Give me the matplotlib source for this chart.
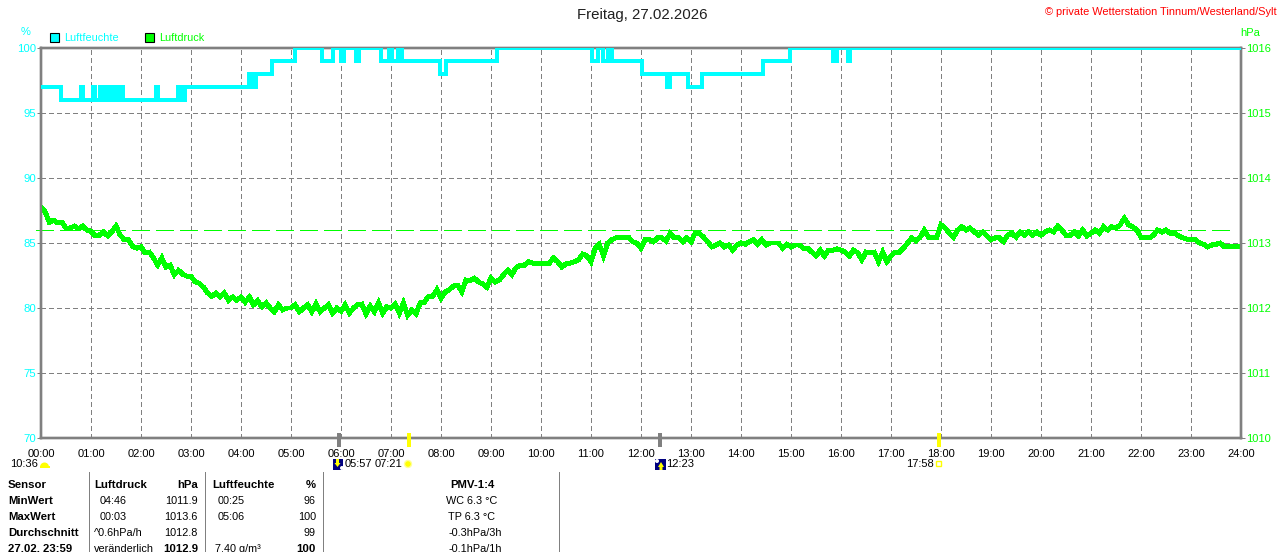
import matplotlib
matplotlib.use("Agg")
import matplotlib.pyplot as plt
import numpy as np
from matplotlib.patches import Rectangle, Wedge, Circle, Polygon

plt.rcParams['font.family'] = ['Liberation Sans', 'DejaVu Sans']

W, H = 1280, 552
CYAN = '#00ffff'
LIME = '#00ff00'
GRAY = '#808080'

hour_labels = [f'{h:02d}:00' for h in range(25)]
hum_ticks = [70, 75, 80, 85, 90, 95, 100]
hpa_ticks = [1010, 1011, 1012, 1013, 1014, 1015, 1016]

# Humidity: minute of change, new value
hum_minutes = [0, 24, 48, 50, 62, 65, 71, 72, 76, 78, 82, 84, 88, 90, 95, 98, 138, 140, 164, 166, 169, 171,
               173, 250, 252, 254, 256, 258, 277, 305, 337, 350, 360, 363, 378, 381, 408, 418, 421, 425,
               428, 433, 479, 486, 547, 661, 668, 674, 680, 685, 721, 751, 755, 776, 793, 866, 899,
               950, 955, 968, 971, 1440]
hum_values = [97, 96, 97, 96, 97, 96, 97, 96, 97, 96, 97, 96, 97, 96, 97, 96, 97, 96, 97, 96, 97, 96,
              97, 98, 97, 98, 97, 98, 99, 100, 99, 100, 99, 100, 99, 100, 99, 100, 99, 99,
              100, 99, 98, 99, 100, 99, 100, 99, 100, 99, 98, 97, 98, 97, 98, 99, 100,
              99, 100, 99, 100, 100]

# Pressure every 5 minutes (hPa), one row per hour
press_hours = [
    1013.55, 1013.48, 1013.32, 1013.35, 1013.31, 1013.32, 1013.23, 1013.23, 1013.26, 1013.22, 1013.26, 1013.20,
    1013.18, 1013.11, 1013.12, 1013.17, 1013.11, 1013.17, 1013.26, 1013.12, 1013.05, 1013.05, 1012.95, 1012.92,
    1012.94, 1012.85, 1012.86, 1012.77, 1012.66, 1012.77, 1012.63, 1012.66, 1012.51, 1012.58, 1012.52, 1012.49,
    1012.49, 1012.40, 1012.38, 1012.32, 1012.23, 1012.18, 1012.23, 1012.17, 1012.23, 1012.12, 1012.17, 1012.12,
    1012.17, 1012.09, 1012.17, 1012.05, 1012.11, 1012.02, 1012.08, 1012.00, 1011.94, 1012.05, 1011.97, 1012.00,
    1012.00, 1012.05, 1011.94, 1012.00, 1012.05, 1011.94, 1012.06, 1011.94, 1012.00, 1012.05, 1011.92, 1012.00,
    1011.95, 1012.05, 1011.92, 1012.00, 1012.05, 1012.06, 1011.91, 1012.03, 1011.94, 1012.08, 1011.92, 1012.02,
    1012.00, 1012.06, 1011.92, 1012.08, 1011.89, 1011.97, 1011.91, 1012.08, 1012.09, 1012.18, 1012.18, 1012.28,
    1012.15, 1012.25, 1012.28, 1012.34, 1012.35, 1012.25, 1012.43, 1012.42, 1012.46, 1012.40, 1012.37, 1012.32,
    1012.46, 1012.40, 1012.43, 1012.51, 1012.58, 1012.51, 1012.62, 1012.66, 1012.66, 1012.71, 1012.69, 1012.69,
    1012.68, 1012.69, 1012.69, 1012.77, 1012.71, 1012.63, 1012.68, 1012.69, 1012.71, 1012.74, 1012.83, 1012.80,
    1012.71, 1012.92, 1012.98, 1012.80, 1013.00, 1013.05, 1013.08, 1013.09, 1013.09, 1013.09, 1013.02, 1013.00,
    1012.92, 1013.05, 1013.05, 1013.02, 1013.08, 1013.08, 1013.03, 1013.15, 1013.08, 1013.08, 1013.02, 1013.08,
    1013.02, 1013.15, 1013.15, 1013.09, 1013.02, 1012.94, 1012.97, 1013.00, 1012.94, 1012.97, 1012.89, 1012.97,
    1013.00, 1012.98, 1013.02, 1013.05, 1012.98, 1013.05, 1012.97, 1013.00, 1013.00, 1013.00, 1012.92, 1012.98,
    1012.94, 1012.97, 1012.97, 1012.92, 1012.92, 1012.86, 1012.80, 1012.89, 1012.80, 1012.89, 1012.89, 1012.91,
    1012.89, 1012.86, 1012.80, 1012.89, 1012.85, 1012.74, 1012.86, 1012.85, 1012.86, 1012.71, 1012.86, 1012.71,
    1012.80, 1012.86, 1012.86, 1012.92, 1013.00, 1013.08, 1013.03, 1013.09, 1013.20, 1013.09, 1013.09, 1013.09,
    1013.28, 1013.23, 1013.15, 1013.09, 1013.20, 1013.25, 1013.20, 1013.23, 1013.17, 1013.12, 1013.17, 1013.11,
    1013.05, 1013.08, 1013.08, 1013.02, 1013.12, 1013.15, 1013.09, 1013.17, 1013.12, 1013.17, 1013.12, 1013.17,
    1013.12, 1013.17, 1013.20, 1013.17, 1013.26, 1013.20, 1013.12, 1013.12, 1013.17, 1013.11, 1013.20, 1013.11,
    1013.15, 1013.20, 1013.15, 1013.25, 1013.20, 1013.25, 1013.23, 1013.28, 1013.38, 1013.28, 1013.25, 1013.20,
    1013.09, 1013.09, 1013.08, 1013.12, 1013.20, 1013.17, 1013.20, 1013.15, 1013.15, 1013.11, 1013.08, 1013.06,
    1013.06, 1013.06, 1013.00, 1012.98, 1012.94, 1012.97, 1012.98, 1013.00, 1012.94, 1012.95, 1012.94, 1012.94,
]
press_minutes = [5 * i for i in range(len(press_hours))]
press_mean_line = 1013.2

gray_events = [357, 743]      # 05:57, 12:23
yellow_events = [441, 1078]   # 07:21, 17:58

table_rows = [
    # text, x, align, weight, row
    ('Sensor', 8, 'left', 'bold', 0), ('Luftdruck', 94, 'left', 'bold', 0), ('hPa', 198, 'right', 'bold', 0),
    ('Luftfeuchte', 212, 'left', 'bold', 0), ('%', 316, 'right', 'bold', 0), ('PMV-1:4', 472, 'center', 'bold', 0),
    ('MinWert', 8, 'left', 'bold', 1), ('04:46', 100, 'left', 'normal', 1), ('1011.9', 198, 'right', 'normal', 1),
    ('00:25', 218, 'left', 'normal', 1), ('96', 316, 'right', 'normal', 1), ('WC 6.3 °C', 472, 'center', 'normal', 1),
    ('MaxWert', 8, 'left', 'bold', 2), ('00:03', 100, 'left', 'normal', 2), ('1013.6', 198, 'right', 'normal', 2),
    ('05:06', 218, 'left', 'normal', 2), ('100', 316, 'right', 'normal', 2), ('TP 6.3 °C', 472, 'center', 'normal', 2),
    ('Durchschnitt', 8, 'left', 'bold', 3), ('^0.6hPa/h', 94, 'left', 'normal', 3), ('1012.8', 198, 'right', 'normal', 3),
    ('99', 316, 'right', 'normal', 3), ('-0.3hPa/3h', 475, 'center', 'normal', 3),
    ('27.02. 23:59', 8, 'left', 'bold', 4), ('veränderlich', 94, 'left', 'normal', 4), ('1012.9', 198, 'right', 'bold', 4),
    ('7.40 g/m³', 215, 'left', 'normal', 4), ('100', 316, 'right', 'bold', 4), ('-0.1hPa/1h', 475, 'center', 'normal', 4),
]
row_y = [485, 501, 517, 533, 549]
table_lines = [89, 205, 323, 559]

fig = plt.figure(figsize=(W / 100, H / 100), dpi=100, facecolor='white')
left, right, top, bottom = 41, 1241, 48, 438
ax = fig.add_axes([left / W, 1 - bottom / H, (right - left) / W, (bottom - top) / H])
ax2 = ax.twinx()
ax.set_zorder(ax2.get_zorder() + 1)
ax.patch.set_visible(False)

ax.set_xlim(0, 1440)
ax.set_ylim(70, 100)
ax2.set_ylim(1010, 1016)

dash = dict(color=GRAY, lw=0.72, ls=(0, (5, 3)), antialiased=False)
ax2.set_xticks(np.arange(0, 1441, 60))
for m in np.arange(60, 1440, 60):
    ax2.plot([m, m], [1010, 1016], zorder=1, **dash)
for v in hpa_ticks[1:-1]:
    ax2.plot([0, 1440], [v, v], zorder=1, **dash)

ax2.plot(press_minutes + [1439], press_hours + [press_hours[-1]], color=LIME, lw=2.8, zorder=3,
         solid_joinstyle='miter', antialiased=False)
ax2.plot([-6, 1428], [press_mean_line, press_mean_line], color=LIME, lw=0.72, ls=(0, (18, 6)), clip_on=False,
         zorder=2, antialiased=False)
ax.plot(hum_minutes, hum_values, color=CYAN, lw=2.7, drawstyle='steps-post', solid_joinstyle='miter',
        antialiased=False, zorder=5)

ax.set_xticks(np.arange(0, 1441, 60))
ax.set_xticklabels(hour_labels, fontsize=8, color='black')
ax.tick_params(axis='x', length=0, pad=8)
ax2.tick_params(axis='x', length=0, labelbottom=False)
ax.set_yticks(hum_ticks)
ax.set_yticklabels([str(v) for v in hum_ticks], fontsize=8.2, color=CYAN)
ax.tick_params(axis='y', length=2.9, width=0.72, color=GRAY, pad=0.5)
ax2.set_yticks(hpa_ticks)
ax2.set_yticklabels([str(v) for v in hpa_ticks], fontsize=8, color=LIME)
ax2.tick_params(axis='y', length=2.9, width=0.72, color=GRAY, pad=0.5)

for a in (ax, ax2):
    for s in a.spines.values():
        s.set_color(GRAY)
        s.set_linewidth(1.7)

tr = ax.get_xaxis_transform()
ax.vlines(gray_events, -0.023, 0.0128, color=GRAY, lw=1.7, transform=tr, clip_on=False, antialiased=False, zorder=6)
ax.vlines(yellow_events, -0.023, 0.0128, color='#ffff00', lw=1.7, transform=tr, clip_on=False, antialiased=False, zorder=6)

# Overlay in pixel coordinates for labels, legend and table
ov = fig.add_axes([0, 0, 1, 1], zorder=10)
ov.set_xlim(0, W)
ov.set_ylim(H, 0)
ov.axis('off')

ov.text(642, 15, 'Freitag, 27.02.2026', fontsize=10.8, ha='center', va='center', color='#202020')
ov.text(1277, 12, '© private Wetterstation Tinnum/Westerland/Sylt', fontsize=7.9, ha='right', va='center', color='#ff0000')
ov.text(26, 32, '%', fontsize=8, ha='center', va='center', color=CYAN)
ov.text(1250, 33, 'hPa', fontsize=8, ha='center', va='center', color=LIME)

for x0, c, label in [(50, CYAN, 'Luftfeuchte'), (145, LIME, 'Luftdruck')]:
    ov.add_patch(Rectangle((x0, 33), 9, 9, facecolor=c, edgecolor='black', lw=0.8))
    ov.text(x0 + 14, 38, label, fontsize=7.8, ha='left', va='center', color=c)

# Sun and moon row
ov.text(10, 464, '10:36', fontsize=8, ha='left', va='center')
ov.add_patch(Wedge((44.5, 467), 4.5, 180, 360, facecolor='#ffff00', edgecolor='none'))
ov.add_patch(Rectangle((40, 466), 10, 2, facecolor='#ffff00', edgecolor='none'))
ov.text(345, 464, '05:57', fontsize=8, ha='left', va='center')
ov.text(375, 464, '07:21', fontsize=8, ha='left', va='center')
ov.text(666, 464, '12:23', fontsize=8, ha='left', va='center')
ov.text(906, 464, '17:58', fontsize=8, ha='left', va='center')
ov.add_patch(Circle((408, 464), 3.5, facecolor='#ffff00', edgecolor='#ffff99', lw=1))
ov.add_patch(Rectangle((936, 461), 5, 5, facecolor='white', edgecolor='#ffff00', lw=1))
ov.add_patch(Rectangle((333, 459), 10, 11, facecolor='#000080', edgecolor='none', zorder=3))
ov.add_patch(Circle((342, 468), 2, facecolor='white', edgecolor='none', zorder=4))
ov.add_patch(Polygon([[336, 459], [339, 459], [339, 463], [340.5, 463], [337.5, 467], [334.5, 463], [336, 463]],
                     facecolor='#ffff00', edgecolor='none', zorder=5))
ov.add_patch(Rectangle((655, 459), 11, 11, facecolor='#000080', edgecolor='none', zorder=3))
ov.add_patch(Circle((657, 461), 2, facecolor='white', edgecolor='none', zorder=4))
ov.add_patch(Polygon([[661, 462], [664, 467], [662.5, 467], [662.5, 470], [659.5, 470], [659.5, 467], [658, 467]],
                     facecolor='#ffff00', edgecolor='none', zorder=5))

for x in table_lines:
    ov.plot([x, x], [472, 552], color=GRAY, lw=0.72, antialiased=False)

for text, x, ha, weight, row in table_rows:
    ov.text(x, row_y[row], text, fontsize=8.2 if weight == 'bold' else 7.8, ha=ha, va='center',
            fontweight=weight, color='black')

fig.savefig('out.png', dpi=100)
